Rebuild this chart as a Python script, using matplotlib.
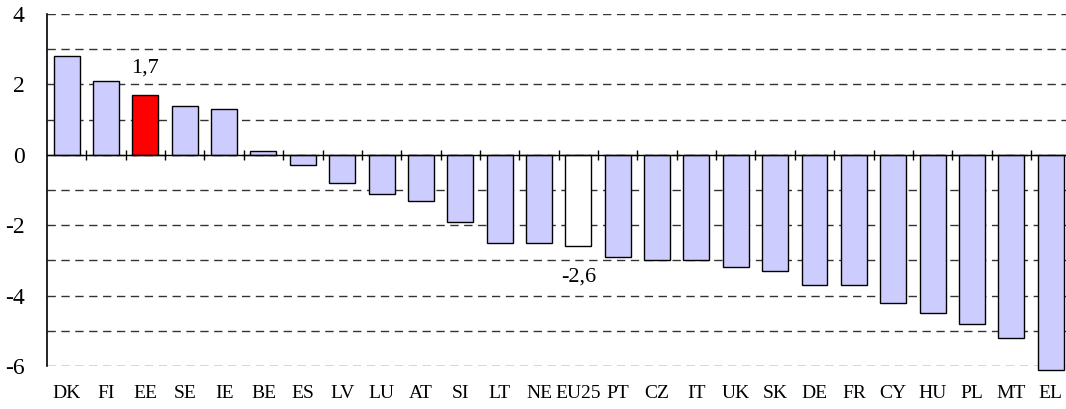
import numpy as np
import matplotlib.pyplot as plt
from matplotlib.ticker import MultipleLocator

countries = ['DK', 'FI', 'EE', 'SE', 'IE', 'BE', 'ES', 'LV', 'LU', 'AT', 'SI', 'LT', 'NE',
             'EU25', 'PT', 'CZ', 'IT', 'UK', 'SK', 'DE', 'FR', 'CY', 'HU', 'PL', 'MT', 'EL']
values = [2.8, 2.1, 1.7, 1.4, 1.3, 0.1, -0.3, -0.8, -1.1, -1.3, -1.9, -2.5, -2.5,
          -2.6, -2.9, -3.0, -3.0, -3.2, -3.3, -3.7, -3.7, -4.2, -4.5, -4.8, -5.2, -6.1]
highlight = 'EE'
average = 'EU25'

plt.rcParams['font.family'] = ['Liberation Serif', 'DejaVu Serif']

fig = plt.figure(figsize=(10.66, 4.09), dpi=100)
ax = fig.add_axes([47 / 1066, 43 / 409, 1019 / 1066, 352 / 409])

x = np.arange(len(countries))
colors = []
for c in countries:
    if c == highlight:
        colors.append('#ff0000')
    elif c == average:
        colors.append('white')
    else:
        colors.append('#ccccff')

bars = ax.bar(x, values, width=0.66, color=colors, edgecolor='black', linewidth=1, zorder=3)
for b in bars:
    b.set_clip_on(False)  # EL dips just below the -6 floor

# value labels for the highlighted country and the EU average
for c, v in zip(countries, values):
    txt = f'{v:.1f}'.replace('.', ',')
    i = countries.index(c)
    if c == highlight:
        ax.annotate(txt, (i, v), xytext=(0, 16), textcoords='offset points',
                    ha='center', va='baseline', fontsize=16)
    elif c == average:
        ax.annotate(txt, (i, v), xytext=(0, -15), textcoords='offset points',
                    ha='center', va='top', fontsize=16)

# the last slot runs slightly past the right edge
ax.set_ylim(-6, 4)
ax.set_xlim(-0.5, 25.39)

ax.yaxis.set_major_locator(MultipleLocator(2))
ax.yaxis.set_minor_locator(MultipleLocator(1))
ax.yaxis.grid(True, which='both', linestyle=(0, (6, 4)), color='#333333', linewidth=1, zorder=0)
ax.set_axisbelow(True)
ax.tick_params(axis='y', which='both', length=0, labelsize=17, pad=16)
ax.set_yticks(np.arange(-6, 5, 2))
ax.set_yticklabels([f'{t:g}' for t in np.arange(-6, 5, 2)])

ax.set_xticks(x)
ax.set_xticklabels(countries)
ax.tick_params(axis='x', length=0, labelsize=14, pad=14)

# zero line with short ticks between categories
ax.axhline(0, color='black', linewidth=1, zorder=4)
ax.vlines(x[:-1] + 0.5, -0.15, 0.13, color='black', linewidth=1, zorder=4)

for s in ['top', 'right', 'bottom']:
    ax.spines[s].set_visible(False)
ax.spines['left'].set_linewidth(1.2)

fig.savefig('out.png', dpi=100)
